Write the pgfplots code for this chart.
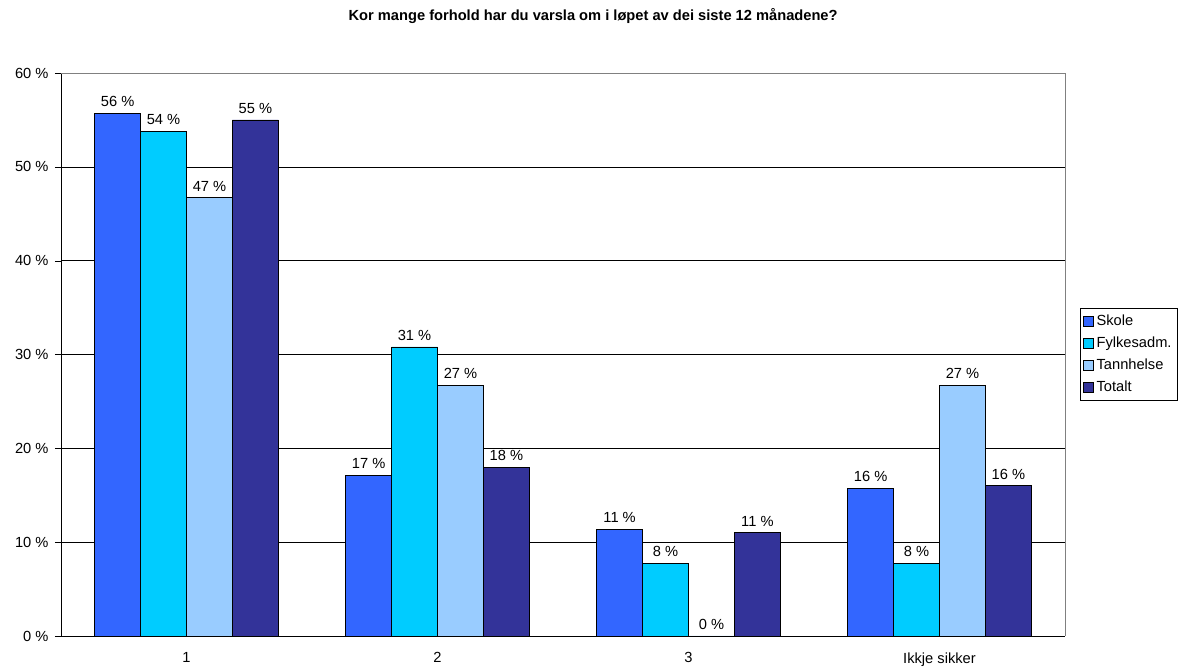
\documentclass[border=0pt]{standalone}
\usepackage{pgfplots}
\pgfplotsset{compat=1.18}
\usepackage{fontspec}
\setmainfont{Liberation Sans}
\definecolor{cSkole}{HTML}{3366FF}
\definecolor{cFylke}{HTML}{00CCFF}
\definecolor{cTann}{HTML}{99CCFF}
\definecolor{cTotal}{HTML}{333399}
\begin{document}
\fontsize{11}{13}\selectfont
\begin{tikzpicture}
\begin{axis}[
  name=ax,
  scale only axis,
  width=753pt, height=422.25pt,
  ybar=0pt, bar width=0.183,
  xmin=-0.5, xmax=3.5,
  ymin=0, ymax=60,
  ytick={0,10,...,60},
  yticklabel={\pgfmathprintnumber{\tick}~\%},
  /pgf/number format/assume math mode=true,
  xtick={0,1,2,3},
  xticklabels={1,2,3,Ikkje sikker},
  major x tick style={draw=none},
  extra x ticks={-0.5,0.5,1.5,2.5,3.5},
  extra x tick labels={},
  extra x tick style={major tick length=4.5pt, tick style={black}},
  tick align=outside,
  major tick length=4.5pt,
  tick style={black},
  xtick pos=bottom, ytick pos=left,
  axis lines*=left,
  axis line style={black, -},
  ymajorgrids, grid style={black, line width=0.4pt},
  ticklabel style={font=\fontsize{11}{13}\selectfont},
  xticklabel style={yshift=-4pt},
  yticklabel style={xshift=-1pt},
  nodes near coords={\pgfmathprintnumber[fixed,precision=0]{\pgfplotspointmeta}~\%},
  nodes near coords style={font=\fontsize{11}{13}\selectfont, yshift=1pt},
  every axis plot/.append style={draw=black, line width=0.6pt},
  legend cell align=left,
  legend style={at={(1.015,0.5)}, anchor=west, draw=black, line width=0.6pt,
    font=\fontsize{11}{13}\selectfont, inner xsep=2pt, inner ysep=3pt, row sep=3pt},
  legend image code/.code={\draw[#1, draw=black, line width=0.6pt] (0pt,-3.75pt) rectangle (7.5pt,3.75pt);},
  clip=false,
]
\draw[gray, line width=0.6pt] (rel axis cs:0,1) -- (rel axis cs:1,1) -- (rel axis cs:1,0);
\addplot[fill=cSkole] coordinates {(0,55.7) (1,17.1) (2,11.4) (3,15.7)};
\addlegendentry{Skole}
\addplot[fill=cFylke] coordinates {(0,53.8) (1,30.8) (2,7.7) (3,7.7)};
\addlegendentry{Fylkesadm.}
\addplot[fill=cTann] coordinates {(0,46.7) (1,26.7) (2,0) (3,26.7)};
\addlegendentry{Tannhelse}
\addplot[fill=cTotal] coordinates {(0,55.0) (1,18.0) (2,11.0) (3,16.0)};
\addlegendentry{Totalt}
\node[font=\bfseries\fontsize{11}{13}\selectfont, yshift=42.75pt] at (rel axis cs:0.53,1) {Kor mange forhold har du varsla om i løpet av dei siste 12 månadene?};
\end{axis}
\path ([xshift=-45.75pt,yshift=-25.5pt]ax.south west) rectangle ([xshift=90pt,yshift=54.75pt]ax.north east);
\end{tikzpicture}
\end{document}
